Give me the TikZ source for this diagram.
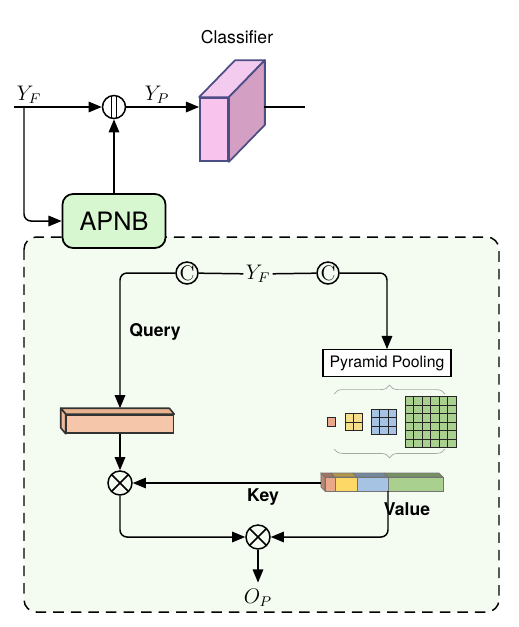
\documentclass[tikz,border=0pt]{standalone}
\usepackage{amsmath, amssymb}
\usepackage{xcolor}
\usepackage{fontspec}
\setsansfont{TeX Gyre Heros}
\usetikzlibrary{calc, arrows.meta, positioning, decorations.pathreplacing}

\definecolor{clsFront}{HTML}{F8C4EE}
\definecolor{clsSide}{HTML}{D3A0C3}
\definecolor{clsTop}{HTML}{F3CBEF}
\definecolor{clsEdge}{HTML}{4D4E85}
\definecolor{apnbFill}{HTML}{D6F7D0}
\definecolor{panelFill}{HTML}{F4FBF1}
\definecolor{queryFill}{HTML}{F5C6A9}
\definecolor{poolOrange}{HTML}{E9A889}
\definecolor{poolYellow}{HTML}{F6DE8A}
\definecolor{poolBlue}{HTML}{A6C3E4}
\definecolor{poolGreen}{HTML}{A9D08E}
\definecolor{valYellow}{HTML}{FDD866}

\begin{document}
\begin{tikzpicture}[x=0.02cm, y=-0.02cm, >={Triangle[length=7.5pt,width=6pt]}, line width=0.85pt,
    opnode/.style={circle, draw, line width=0.85pt, fill=panelFill, minimum size=0.48cm, inner sep=0pt},
    mulnode/.style={opnode, path picture={
        \draw (path picture bounding box.north west) -- (path picture bounding box.south east)
              (path picture bounding box.north east) -- (path picture bounding box.south west);}},
    catnode/.style={opnode, fill=white, minimum size=0.46cm, path picture={
        \draw ([xshift=-1.3pt]path picture bounding box.north) -- ([xshift=-1.3pt]path picture bounding box.south)
              ([xshift=1.3pt]path picture bounding box.north) -- ([xshift=1.3pt]path picture bounding box.south);}},
    cnode/.style={opnode, minimum size=0.44cm, font=\large},
    sflabel/.style={font=\sffamily\bfseries},
    cellline/.style={line width=0.5pt, black!85}]

    \useasboundingbox (0,0) rectangle (519,627);

    % =================================================================
    % 1. KHUNG NET DUT CUA APNB
    % =================================================================
    \draw[rounded corners=7pt, fill=panelFill, line width=0.85pt, dash pattern=on 6pt off 4pt]
        (24,237) rectangle (499,612);

    % =================================================================
    % 2. NHANH TREN: Y_F, NOI, CLASSIFIER
    % =================================================================
    \coordinate (yfStart) at (14,107);
    \coordinate (yfSplit) at (24,107);
    \node (yfIn) at (29,95) {\large $Y_F$};
    \node[catnode] (cat) at (114,107) {};
    \node (yp) at (157,95) {\large $Y_P$};

    % Khoi classifier (mat truoc + mat tren + mat phai)
    \node[draw=clsEdge, fill=clsFront, line width=1pt, minimum width=0.56cm, minimum height=1.26cm,
          inner sep=0pt] (cls) at (214,129.5) {};
    \draw[clsEdge, fill=clsTop, line width=1pt, line join=round]
        (cls.north west) -- ++(36,-37) -- ($(cls.north east)+(36,-37)$) -- (cls.north east) -- cycle;
    \draw[clsEdge, fill=clsSide, line width=1pt, line join=round]
        (cls.north east) -- ++(36,-37) -- ($(cls.south east)+(36,-37)$) -- (cls.south east) -- cycle;
    \node[font=\sffamily] (clsName) at (237,37) {Classifier};
    \coordinate (clsBack) at (264,107);
    \coordinate (clsOut) at (305,107);

    \node[draw, fill=apnbFill, rounded corners=6pt, line width=1pt, minimum width=2.06cm,
          minimum height=1.08cm, font=\sffamily\Large] (apnb) at (114,221) {APNB};

    \draw[->] (yfStart) -- (cat);
    \draw[->] (cat) -- (cat -| cls.west);
    \draw (clsBack) -- (clsOut);
    \draw[->, rounded corners=4pt] (yfSplit) |- (apnb.west);
    \draw[->] (apnb) -- (cat);

    % =================================================================
    % 3. BEN TRONG APNB: Query, Pyramid Pooling
    % =================================================================
    \node[cnode] (c1) at (187,273) {C};
    \node[fill=panelFill, inner sep=1pt] (yfMid) at (258,274) {\large $Y_F$};
    \node[cnode] (c2) at (328,273) {C};
    \draw (c1) -- (yfMid) -- (c2);

    \node[sflabel] (qName) at (155,332) {Query};
    \node[draw, fill=white, line width=0.6pt, minimum width=2.56cm, minimum height=0.52cm,
          font=\sffamily\small] (pool) at (387,363) {Pyramid Pooling};

    % Thanh Query dang hop
    \node[draw=black!80, fill=queryFill, line width=0.9pt, minimum width=2.14cm, minimum height=0.36cm,
          inner sep=0pt] (query) at (120,424) {};
    \draw[black!80, fill=queryFill!75!brown, line width=0.9pt, line join=round]
        (query.north west) -- ++(-5,-6) -- ($(query.north east)+(-5,-6)$) -- (query.north east) -- cycle;
    \draw[black!80, fill=queryFill!85!brown, line width=0.9pt, line join=round]
        (query.north west) -- ++(-5,-6) -- ($(query.south west)+(-5,-6)$) -- (query.south west) -- cycle;

    \draw[->, rounded corners=4pt] (c1) -| ([yshift=0.12cm]query.north);
    \draw[->, rounded corners=4pt] (c2) -| (pool);

    % Cac luoi pooling 1x1, 2x2, 3x3, 6x6
    \draw[decorate, decoration={brace, amplitude=5pt}, black!35, thin] (334,394) -- (445,394);
    \foreach \x/\n/\c in {327/1/poolOrange, 345/2/poolYellow, 371/3/poolBlue, 405/6/poolGreen} {
        \draw[cellline, fill=\c] (\x,422-\n*4.25) rectangle (\x+\n*8.5,422+\n*4.25);
        \foreach \k in {1,...,\n} {
            \draw[cellline] (\x+\k*8.5,422-\n*4.25) -- (\x+\k*8.5,422+\n*4.25);
            \draw[cellline] (\x,422-\n*4.25+\k*8.5) -- (\x+\n*8.5,422-\n*4.25+\k*8.5);
        }
    }
    \draw[decorate, decoration={brace, amplitude=5pt}, black!35, thin] (445,449) -- (334,449);

    % Thanh Key/Value
    \foreach \xa/\xb/\c in {325/335/poolOrange, 335/357/valYellow, 357/388/poolBlue, 388/443/poolGreen} {
        \draw[black!55, line width=0.4pt, fill=\c!70!black, line join=round]
            (\xa,477) -- (\xa-4,473) -- (\xb-4,473) -- (\xb,477) -- cycle;
        \draw[black!55, line width=0.4pt, fill=\c] (\xa,477) rectangle (\xb,491);
    }
    \draw[black!55, line width=0.4pt, fill=poolOrange!80!black] (325,477) -- (321,473) -- (321,487) -- (325,491) -- cycle;
    \coordinate (keyOut) at (321,483);
    \coordinate (valOut) at (388,491);

    % =================================================================
    % 4. PHEP NHAN VA DAU RA O_P
    % =================================================================
    \node[mulnode] (mul1) at (120,483) {};
    \node[mulnode] (mul2) at (258,537) {};
    \node (op) at (258,598) {\large $O_P$};

    \draw[->] (query) -- (mul1);
    \draw[->] (keyOut) -- (mul1);
    \node[sflabel] (keyName) at (263,497) {Key};
    \node[sflabel] (valName) at (407,509) {Value};
    \draw[->, rounded corners=4pt] (mul1) |- (mul2);
    \draw[->, rounded corners=4pt] (valOut) |- (mul2);
    \draw[->] (mul2) -- (op);

\end{tikzpicture}
\end{document}
